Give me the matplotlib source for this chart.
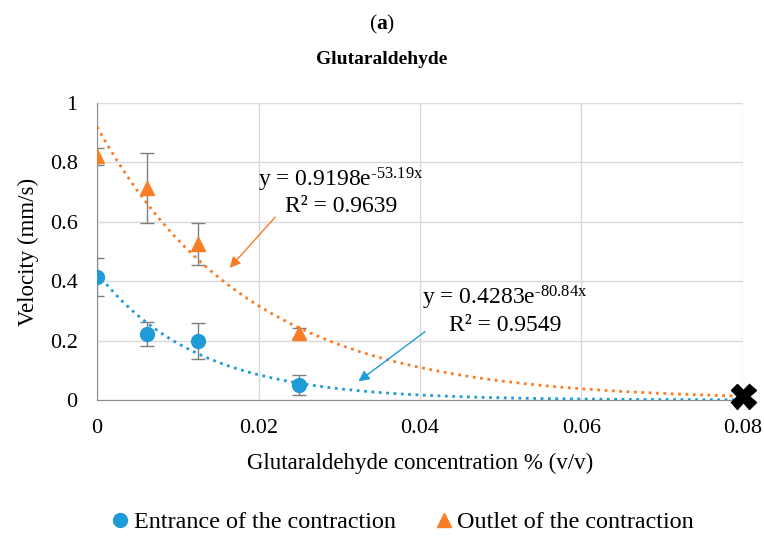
import numpy as np
import matplotlib.pyplot as plt

plt.rcParams['font.family'] = ['Liberation Serif', 'DejaVu Serif']
plt.rcParams['mathtext.fontset'] = 'custom'
plt.rcParams['mathtext.rm'] = 'Liberation Serif'
plt.rcParams['mathtext.it'] = 'Liberation Serif:italic'
plt.rcParams['mathtext.bf'] = 'Liberation Serif:bold'

conc = [0, 0.00625, 0.0125, 0.025]
entrance = [0.414, 0.222, 0.199, 0.05]
entrance_err = [0.064, 0.04, 0.06, 0.033]
outlet = [0.82, 0.714, 0.525, 0.225]
outlet_err = [0.03, 0.117, 0.07, 0.017]
blocked_x, blocked_y = 0.08, 0.015

fit_out = (0.9198, -53.19, 0.9639)
fit_ent = (0.4283, -80.84, 0.9549)

blue = '#1f9bd7'
orange = '#f97d24'

fig = plt.figure(figsize=(7.64, 5.36), dpi=100)
ax = fig.add_axes([0.127, 0.2537, 0.8455, 0.5541])

ax.errorbar(conc, entrance, yerr=entrance_err, fmt='none', ecolor='#7f7f7f',
            elinewidth=1, capsize=5, zorder=2)
ax.errorbar(conc, outlet, yerr=outlet_err, fmt='none', ecolor='#7f7f7f',
            elinewidth=1, capsize=5, zorder=2)

xs = np.linspace(0, 0.08, 200)
ax.plot(xs, fit_out[0] * np.exp(fit_out[1] * xs), ':', color=orange, lw=2, zorder=3)
ax.plot(xs, fit_ent[0] * np.exp(fit_ent[1] * xs), ':', color=blue, lw=2, zorder=3)

ax.plot(conc, entrance, 'o', color=blue, ms=10, zorder=4,
        label='Entrance of the contraction')
ax.plot(conc, outlet, '^', color=orange, ms=10, zorder=4,
        label='Outlet of the contraction')
ax.plot(blocked_x, blocked_y, 'X', color='black', ms=18, zorder=5, clip_on=False)

ax.set_xlim(0, 0.08)
ax.set_ylim(0, 1)
ax.set_xticks([0, 0.02, 0.04, 0.06, 0.08])
ax.set_xticklabels(['0', '0.02', '0.04', '0.06', '0.08'])
ax.set_yticks([0, 0.2, 0.4, 0.6, 0.8, 1])
ax.set_yticklabels(['0', '0.2', '0.4', '0.6', '0.8', '1'])
ax.tick_params(labelsize=16, length=0)
ax.tick_params(axis='x', pad=14)
ax.tick_params(axis='y', pad=14)
ax.grid(True, color='#d9d9d9', lw=1)
ax.set_axisbelow(True)
for s in ['top', 'right']:
    ax.spines[s].set_visible(False)
for s in ['left', 'bottom']:
    ax.spines[s].set_color('#8c8c8c')

ax.set_xlabel('Glutaraldehyde concentration % (v/v)', fontsize=16.5, labelpad=10)
ax.set_ylabel('Velocity (mm/s)', fontsize=16.5, labelpad=8)

fig.text(0.5, 1 - 24 / 536, r'($\mathbf{a}$)', ha='center', va='center', fontsize=15.5)
fig.text(0.5, 1 - 59 / 536, 'Glutaraldehyde', ha='center', va='center',
         fontsize=14, fontweight='bold')

# trendline equations with arrows
ax.annotate('', xy=(0.0162, 0.438), xytext=(0.0223, 0.623),
            arrowprops=dict(arrowstyle='-|>', color=orange, lw=1, mutation_scale=16))
ax.text(0.0302, 0.741, r'y = %.4fe$^{\text{%.2fx}}$' % (fit_out[0], fit_out[1]),
        ha='center', va='center', fontsize=17)
ax.text(0.0302, 0.65, 'R² = %.4f' % fit_out[2], ha='center', va='center', fontsize=17)

ax.annotate('', xy=(0.0321, 0.057), xytext=(0.0409, 0.236),
            arrowprops=dict(arrowstyle='-|>', color=blue, lw=1, mutation_scale=16))
ax.text(0.0505, 0.343, r'y = %.4fe$^{\text{%.2fx}}$' % (fit_ent[0], fit_ent[1]),
        ha='center', va='center', fontsize=17)
ax.text(0.0505, 0.252, 'R² = %.4f' % fit_ent[2], ha='center', va='center', fontsize=17)

fig.legend(loc='center', bbox_to_anchor=(0.525, 1 - 522 / 536), ncol=2, frameon=False,
           fontsize=17.4, handletextpad=0.05, columnspacing=1.5, handlelength=1)

fig.savefig('out.png', dpi=100)
